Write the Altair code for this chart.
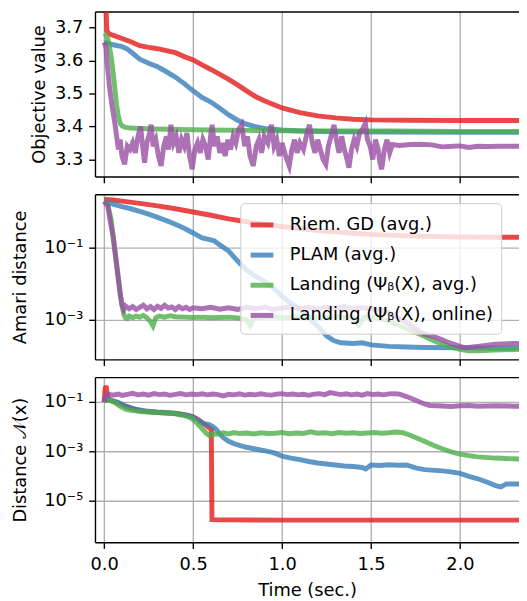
import altair as alt
import pandas as pd

SERIES = ["Riem. GD (avg.)", "PLAM (avg.)", "Landing (Ψᵦ(X), avg.)", "Landing (Ψᵦ(X), online)"]
COLORS = ["#e41a1c", "#377eb8", "#4daf4a", "#984ea3"]
X_TICKS = [0.0, 0.5, 1.0, 1.5, 2.0]
X_DOMAIN = [-0.0517, 2.3317]
OBJ_TICKS = [3.3, 3.4, 3.5, 3.6, 3.7]
OBJ_DOMAIN = [3.248, 3.749]
AMARI_TICKS = [1e-1, 1e-3]
AMARI_DOMAIN = [7.94e-5, 2.95]
DIST_TICKS = [1e-1, 1e-3, 1e-5]
DIST_DOMAIN = [2.0e-7, 1.02]

# ---------------- Panel 1: objective value ----------------
obj_red_t = [0.0, 0.008, 0.015, 0.03, 0.06, 0.1, 0.15, 0.2, 0.25, 0.3, 0.35, 0.4, 0.45, 0.5,
             0.55, 0.6, 0.65, 0.7, 0.75, 0.8, 0.85, 0.9, 1.0, 1.1, 1.2, 1.3, 1.4, 1.5, 1.7, 2.0, 2.36]
obj_red_v = [3.95, 3.80, 3.69, 3.68, 3.675, 3.667, 3.657, 3.645, 3.640, 3.636, 3.630, 3.624, 3.612, 3.602,
             3.587, 3.573, 3.558, 3.543, 3.526, 3.508, 3.491, 3.478, 3.456, 3.442, 3.432, 3.426, 3.422, 3.420, 3.419, 3.418, 3.418]

obj_blue_t = [0.0, 0.05, 0.1, 0.13, 0.16, 0.2, 0.25, 0.3, 0.35, 0.4, 0.45, 0.5, 0.55, 0.6, 0.65,
              0.7, 0.75, 0.8, 0.85, 0.9, 1.0, 1.1, 1.3, 1.6, 2.0, 2.36]
obj_blue_v = [3.656, 3.648, 3.642, 3.635, 3.622, 3.604, 3.592, 3.581, 3.566, 3.550, 3.530, 3.508, 3.488, 3.474, 3.455,
              3.435, 3.419, 3.407, 3.399, 3.394, 3.389, 3.386, 3.384, 3.383, 3.382, 3.382]

obj_green_t = [0.0, 0.01, 0.02, 0.03, 0.04, 0.05, 0.06, 0.07, 0.08, 0.09, 0.1, 0.12, 0.15, 0.2, 0.3,
               0.4, 0.6, 0.8, 1.0, 1.3, 1.6, 2.0, 2.36]
obj_green_v = [3.672, 3.676, 3.665, 3.64, 3.61, 3.565, 3.515, 3.465, 3.43, 3.41, 3.402, 3.397, 3.395, 3.394, 3.392,
               3.391, 3.389, 3.388, 3.387, 3.386, 3.386, 3.385, 3.385]

obj_purple_t = [0.0, 0.01, 0.015, 0.03, 0.045, 0.06, 0.07, 0.08, 0.09, 0.10, 0.115, 0.13, 0.145, 0.16, 0.175,
                0.19, 0.205, 0.218, 0.227, 0.24, 0.255, 0.264, 0.275, 0.29, 0.305, 0.32, 0.335, 0.35, 0.362,
                0.375, 0.39, 0.405, 0.42, 0.435, 0.45, 0.465, 0.48, 0.495, 0.51, 0.525, 0.54, 0.555, 0.57,
                0.585, 0.6, 0.607, 0.62, 0.635, 0.65, 0.665, 0.68, 0.695, 0.71, 0.725, 0.74, 0.755, 0.773,
                0.79, 0.805, 0.82, 0.838, 0.855, 0.87, 0.885, 0.9, 0.92, 0.94, 0.955, 0.97, 0.985, 1.0,
                1.02, 1.04, 1.055, 1.07, 1.085, 1.1, 1.12, 1.14, 1.154, 1.17, 1.185, 1.2, 1.215, 1.23,
                1.246, 1.26, 1.275, 1.292, 1.305, 1.32, 1.335, 1.35, 1.365, 1.376, 1.39, 1.405, 1.42,
                1.435, 1.45, 1.468, 1.48, 1.495, 1.51, 1.525, 1.54, 1.55, 1.56, 1.575, 1.59, 1.605, 1.62,
                1.66, 1.72, 1.78, 1.84, 1.9, 1.96, 2.0, 2.05, 2.1, 2.16, 2.22, 2.3, 2.36]
obj_purple_v = [3.655, 3.64, 3.60, 3.52, 3.46, 3.41, 3.37, 3.33, 3.36, 3.31, 3.285, 3.34, 3.33, 3.35, 3.32,
                3.37, 3.40, 3.33, 3.29, 3.35, 3.38, 3.405, 3.34, 3.36, 3.31, 3.28, 3.34, 3.37, 3.33,
                3.405, 3.35, 3.37, 3.32, 3.36, 3.34, 3.38, 3.31, 3.27, 3.33, 3.35, 3.32, 3.36, 3.34,
                3.30, 3.38, 3.405, 3.34, 3.37, 3.32, 3.35, 3.31, 3.36, 3.33, 3.37, 3.35, 3.39, 3.405,
                3.34, 3.37, 3.31, 3.28, 3.34, 3.36, 3.32, 3.37, 3.35, 3.405, 3.34, 3.36, 3.31, 3.35,
                3.31, 3.28, 3.33, 3.36, 3.32, 3.35, 3.33, 3.38, 3.405, 3.35, 3.32, 3.36, 3.33, 3.30,
                3.285, 3.34, 3.37, 3.405, 3.36, 3.32, 3.37, 3.33, 3.30, 3.275, 3.33, 3.36, 3.34,
                3.38, 3.39, 3.41, 3.36, 3.34, 3.30, 3.36, 3.33, 3.29, 3.27, 3.33, 3.36, 3.32, 3.345,
                3.342, 3.345, 3.346, 3.344, 3.338, 3.340, 3.341, 3.336, 3.340, 3.339, 3.340, 3.340, 3.340]

# ---------------- Panel 2: Amari distance (log10 of value) ----------------
am_red_t = [0.0, 0.05, 0.1, 0.2, 0.3, 0.4, 0.5, 0.6, 0.7, 0.8, 0.9, 1.0, 1.1, 1.2, 1.3, 1.4, 1.5,
            1.6, 1.7, 1.8, 2.0, 2.2, 2.36]
am_red_log = [0.33, 0.31, 0.28, 0.22, 0.15, 0.07, -0.02, -0.11, -0.21, -0.29, -0.36, -0.42, -0.48, -0.53,
              -0.57, -0.61, -0.64, -0.66, -0.68, -0.69, -0.71, -0.72, -0.72]

am_blue_t = [0.0, 0.05, 0.1, 0.15, 0.2, 0.25, 0.3, 0.35, 0.4, 0.45, 0.5, 0.55, 0.6, 0.62, 0.65, 0.7,
             0.75, 0.8, 0.85, 0.9, 0.95, 1.0, 1.05, 1.1, 1.15, 1.2, 1.25, 1.29, 1.33, 1.4, 1.45, 1.5,
             1.55, 1.6, 1.7, 1.8, 2.0, 2.2, 2.36]
am_blue_log = [0.26, 0.20, 0.13, 0.07, 0.0, -0.08, -0.17, -0.26, -0.36, -0.47, -0.60, -0.74, -0.79, -0.82,
               -0.93, -1.10, -1.38, -1.62, -1.80, -1.93, -2.12, -2.35, -2.55, -2.72, -2.95, -3.18, -3.45,
               -3.58, -3.64, -3.66, -3.64, -3.70, -3.72, -3.74, -3.76, -3.77, -3.78, -3.79, -3.79]

am_green_t = [0.0, 0.02, 0.04, 0.05, 0.06, 0.07, 0.08, 0.09, 0.1, 0.11, 0.12, 0.13, 0.14, 0.16, 0.18,
              0.2, 0.22, 0.24, 0.26, 0.274, 0.29, 0.31, 0.34, 0.37, 0.4, 0.45, 0.5, 0.55, 0.6, 0.65,
              0.7, 0.75, 0.8, 0.82, 0.84, 0.9, 0.95, 1.0, 1.1, 1.2, 1.3, 1.4, 1.43, 1.46, 1.5, 1.55,
              1.6, 1.65, 1.7, 1.75, 1.8, 1.85, 1.9, 1.95, 2.0, 2.05, 2.1, 2.2, 2.36]
am_green_log = [0.29, 0.20, -0.25, -0.65, -1.05, -1.45, -1.85, -2.25, -2.6, -2.85, -2.95, -2.97, -2.90,
                -2.94, -2.90, -2.93, -2.88, -2.95, -3.05, -3.17, -2.95, -2.90, -2.93, -2.89, -2.92,
                -2.93, -2.94, -2.93, -2.95, -2.94, -2.93, -2.95, -3.0, -3.17, -2.96, -2.93, -2.92,
                -2.94, -2.93, -2.93, -2.92, -2.95, -3.15, -2.94, -2.93, -2.97, -3.05, -3.15, -3.25,
                -3.35, -3.46, -3.58, -3.68, -3.76, -3.82, -3.86, -3.86, -3.84, -3.82]

am_purple_t = [0.0, 0.02, 0.035, 0.05, 0.06, 0.07, 0.08, 0.09, 0.1, 0.11, 0.12, 0.14, 0.16, 0.18, 0.2,
               0.22, 0.24, 0.26, 0.28, 0.3, 0.32, 0.34, 0.36, 0.38, 0.4, 0.42, 0.44, 0.46, 0.48, 0.5,
               0.55, 0.6, 0.65, 0.7, 0.75, 0.8, 0.85, 0.9, 0.95, 1.0, 1.05, 1.1, 1.15, 1.2, 1.25, 1.3,
               1.35, 1.4, 1.45, 1.5, 1.55, 1.6, 1.65, 1.7, 1.75, 1.8, 1.85, 1.9, 1.95, 2.0, 2.03, 2.1,
               2.2, 2.3, 2.36]
am_purple_log = [0.27, 0.15, -0.3, -0.7, -1.1, -1.5, -1.9, -2.3, -2.6, -2.72, -2.62, -2.70, -2.64, -2.72,
                 -2.66, -2.60, -2.70, -2.64, -2.72, -2.63, -2.69, -2.60, -2.68, -2.65, -2.72, -2.64,
                 -2.70, -2.66, -2.72, -2.67, -2.70, -2.66, -2.71, -2.67, -2.72, -2.66, -2.70, -2.65,
                 -2.72, -2.68, -2.64, -2.70, -2.66, -2.71, -2.65, -2.69, -2.64, -2.70, -2.67, -2.70,
                 -2.72, -2.80, -2.95, -3.08, -3.25, -3.40, -3.46, -3.56, -3.66, -3.74, -3.78, -3.74,
                 -3.68, -3.66, -3.66]

# ---------------- Panel 3: distance N(x) (log10 of value) ----------------
dn_red_t = [0.0, 0.005, 0.01, 0.015, 0.02, 0.04, 0.07, 0.1, 0.15, 0.2, 0.25, 0.3, 0.35, 0.4, 0.45,
            0.5, 0.53, 0.56, 0.59, 0.602, 0.606, 0.65, 1.0, 1.5, 2.0, 2.36]
dn_red_log = [-1.0, -0.5, -0.34, -0.55, -0.85, -0.95, -1.02, -1.12, -1.25, -1.35, -1.40, -1.43, -1.45,
              -1.47, -1.52, -1.60, -1.73, -1.88, -2.05, -2.12, -5.78, -5.79, -5.80, -5.80, -5.80, -5.80]

dn_blue_t = [0.0, 0.03, 0.06, 0.08, 0.1, 0.12, 0.15, 0.17, 0.2, 0.25, 0.3, 0.35, 0.4, 0.45, 0.49,
             0.52, 0.54, 0.56, 0.59, 0.61, 0.63, 0.65, 0.67, 0.7, 0.73, 0.76, 0.8, 0.85, 0.9, 0.95,
             1.0, 1.05, 1.1, 1.15, 1.2, 1.25, 1.3, 1.35, 1.4, 1.45, 1.47, 1.5, 1.55, 1.6, 1.65, 1.7,
             1.75, 1.8, 1.9, 1.95, 2.0, 2.05, 2.1, 2.15, 2.2, 2.23, 2.26, 2.3, 2.36]
dn_blue_log = [-0.88, -0.90, -0.97, -1.02, -1.10, -1.17, -1.24, -1.28, -1.32, -1.38, -1.41, -1.43, -1.46,
               -1.52, -1.58, -1.70, -1.81, -1.88, -1.92, -2.0, -2.12, -2.30, -2.45, -2.60, -2.69, -2.76,
               -2.84, -2.91, -2.98, -3.06, -3.20, -3.28, -3.34, -3.42, -3.48, -3.52, -3.56, -3.60,
               -3.62, -3.66, -3.72, -3.56, -3.58, -3.55, -3.57, -3.56, -3.68, -3.75, -3.80, -3.84,
               -3.90, -4.02, -4.12, -4.25, -4.40, -4.45, -4.33, -4.33, -4.34]

dn_green_t = [0.0, 0.03, 0.06, 0.08, 0.1, 0.12, 0.15, 0.2, 0.25, 0.3, 0.35, 0.4, 0.45, 0.49, 0.52,
              0.55, 0.575, 0.59, 0.61, 0.64, 0.67, 0.7, 0.73, 0.76, 0.8, 0.84, 0.88, 0.92, 0.96, 1.0,
              1.04, 1.08, 1.12, 1.16, 1.2, 1.24, 1.28, 1.32, 1.36, 1.4, 1.44, 1.48, 1.52, 1.56, 1.6,
              1.64, 1.68, 1.72, 1.76, 1.8, 1.85, 1.9, 1.95, 2.0, 2.05, 2.1, 2.2, 2.3, 2.36]
dn_green_log = [-0.94, -0.93, -1.02, -1.13, -1.22, -1.29, -1.34, -1.39, -1.41, -1.43, -1.45, -1.48,
                -1.55, -1.66, -1.85, -2.08, -2.28, -2.36, -2.31, -2.30, -2.25, -2.30, -2.24, -2.28,
                -2.26, -2.30, -2.25, -2.28, -2.27, -2.24, -2.29, -2.26, -2.28, -2.21, -2.27, -2.25,
                -2.29, -2.24, -2.27, -2.25, -2.28, -2.26, -2.24, -2.27, -2.25, -2.22, -2.25, -2.35,
                -2.47, -2.60, -2.76, -2.90, -3.03, -3.12, -3.18, -3.23, -3.28, -3.31, -3.32]

dn_purple_t = [0.0, 0.005, 0.01, 0.03, 0.05, 0.08, 0.1, 0.13, 0.16, 0.19, 0.22, 0.25, 0.28, 0.31, 0.34,
               0.37, 0.4, 0.43, 0.46, 0.49, 0.52, 0.55, 0.58, 0.61, 0.64, 0.67, 0.7, 0.73, 0.76, 0.79,
               0.82, 0.85, 0.88, 0.91, 0.94, 0.97, 1.0, 1.03, 1.06, 1.09, 1.12, 1.15, 1.18, 1.21, 1.24,
               1.27, 1.3, 1.33, 1.36, 1.39, 1.42, 1.45, 1.48, 1.51, 1.54, 1.57, 1.6, 1.63, 1.66, 1.7,
               1.75, 1.8, 1.83, 1.9, 1.95, 2.0, 2.05, 2.1, 2.2, 2.3, 2.36]
dn_purple_log = [-1.01, -0.8, -0.72, -0.70, -0.72, -0.68, -0.73, -0.69, -0.65, -0.71, -0.68, -0.72,
                 -0.66, -0.70, -0.68, -0.73, -0.69, -0.66, -0.71, -0.68, -0.70, -0.67, -0.71, -0.68,
                 -0.70, -0.75, -0.69, -0.71, -0.67, -0.72, -0.69, -0.71, -0.67, -0.70, -0.72, -0.68,
                 -0.66, -0.70, -0.68, -0.71, -0.69, -0.73, -0.68, -0.66, -0.70, -0.62, -0.66, -0.70,
                 -0.67, -0.71, -0.68, -0.72, -0.66, -0.70, -0.68, -0.71, -0.67, -0.66, -0.68, -0.78,
                 -0.93, -1.08, -1.14, -1.16, -1.18, -1.15, -1.14, -1.17, -1.15, -1.17, -1.17]


def frame(ts, vs, name, log=False):
    vals = [10 ** v for v in vs] if log else list(vs)
    return pd.DataFrame({"t": ts, "v": vals, "s": name})


FONT = "DejaVu Sans"
x_scale = alt.Scale(domain=X_DOMAIN, nice=False, zero=False)
color_scale = alt.Scale(domain=SERIES, range=COLORS)

top_axis = alt.Axis(orient="top", labels=False, ticks=False, grid=False, title=None,
                    domain=True, domainColor="black", domainWidth=1.4)


def bottom_axis(show_labels):
    if show_labels:
        return alt.Axis(values=X_TICKS, format=".1f", grid=True, title="Time (sec.)",
                        labelPadding=7, titlePadding=9)
    return alt.Axis(values=X_TICKS, labels=False, grid=True, title=None)


legend_main = alt.Legend(
    title=None, orient="none", legendX=147, legendY=9,
    symbolType="stroke", symbolSize=529, symbolStrokeWidth=5, symbolOpacity=0.8,
    labelFont=FONT, labelFontSize=18, labelColor="black", labelLimit=400, labelOffset=14,
    rowPadding=6.5, padding=8, fillColor="rgba(255,255,255,0.8)", strokeColor="#cccccc",
    cornerRadius=4,
)


def panel(frames, y_scale, y_axis, x_axis, legend):
    lines = []
    for df in frames:
        lines.append(
            alt.Chart(df).mark_line(strokeWidth=5, opacity=0.8, clip=True).encode(
                x=alt.X("t:Q", scale=x_scale, axis=x_axis),
                y=alt.Y("v:Q", scale=y_scale, axis=y_axis),
                color=alt.Color("s:N", scale=color_scale, legend=legend),
            )
        )
    top = alt.Chart(frames[0]).mark_line(opacity=0, clip=True).encode(
        x=alt.X("t:Q", scale=x_scale, axis=top_axis),
        y=alt.Y("v:Q", scale=y_scale, axis=None),
    )
    return (
        alt.layer(alt.layer(*lines), top)
        .resolve_axis(x="independent", y="independent")
        .properties(width=429, height=167)
    )


p1 = panel(
    [frame(obj_red_t, obj_red_v, SERIES[0]), frame(obj_blue_t, obj_blue_v, SERIES[1]),
     frame(obj_green_t, obj_green_v, SERIES[2]), frame(obj_purple_t, obj_purple_v, SERIES[3])],
    alt.Scale(domain=OBJ_DOMAIN, nice=False, zero=False),
    alt.Axis(values=OBJ_TICKS, format=".1f", grid=False, title="Objective value", titlePadding=6),
    bottom_axis(False), None,
)

log_label = ("datum.value > 0.05 ? '10⁻¹' : datum.value > 0.0005 ? '10⁻³' : '10⁻⁵'")

p2 = panel(
    [frame(am_red_t, am_red_log, SERIES[0], True), frame(am_blue_t, am_blue_log, SERIES[1], True),
     frame(am_green_t, am_green_log, SERIES[2], True), frame(am_purple_t, am_purple_log, SERIES[3], True)],
    alt.Scale(type="log", domain=AMARI_DOMAIN, nice=False),
    alt.Axis(values=AMARI_TICKS, labelExpr=log_label, grid=True, title="Amari distance", titlePadding=14),
    bottom_axis(False), legend_main,
)

p3 = panel(
    [frame(dn_red_t, dn_red_log, SERIES[0], True), frame(dn_blue_t, dn_blue_log, SERIES[1], True),
     frame(dn_green_t, dn_green_log, SERIES[2], True), frame(dn_purple_t, dn_purple_log, SERIES[3], True)],
    alt.Scale(type="log", domain=DIST_DOMAIN, nice=False),
    alt.Axis(values=DIST_TICKS, labelExpr=log_label, grid=True, title="Distance 𝒩(x)", titlePadding=14),
    bottom_axis(True), None,
)

chart = (
    alt.vconcat(p1, p2, p3, spacing=11)
    .resolve_legend(color="independent")
    .properties(padding={"left": 4, "top": 0, "right": 0, "bottom": 0})
    .configure(font=FONT)
    .configure_view(stroke=None)
    .configure_axis(
        labelFont=FONT, labelFontSize=18, labelColor="black",
        titleFont=FONT, titleFontSize=18, titleFontWeight="normal", titleColor="black",
        tickColor="black", tickSize=6.3, tickWidth=1.4,
        domainColor="black", domainWidth=1.4,
        gridColor="#b0b0b0", gridWidth=1.4, labelPadding=6,
    )
)

chart.save("out.html", embed_options={"renderer": "svg", "actions": False})
